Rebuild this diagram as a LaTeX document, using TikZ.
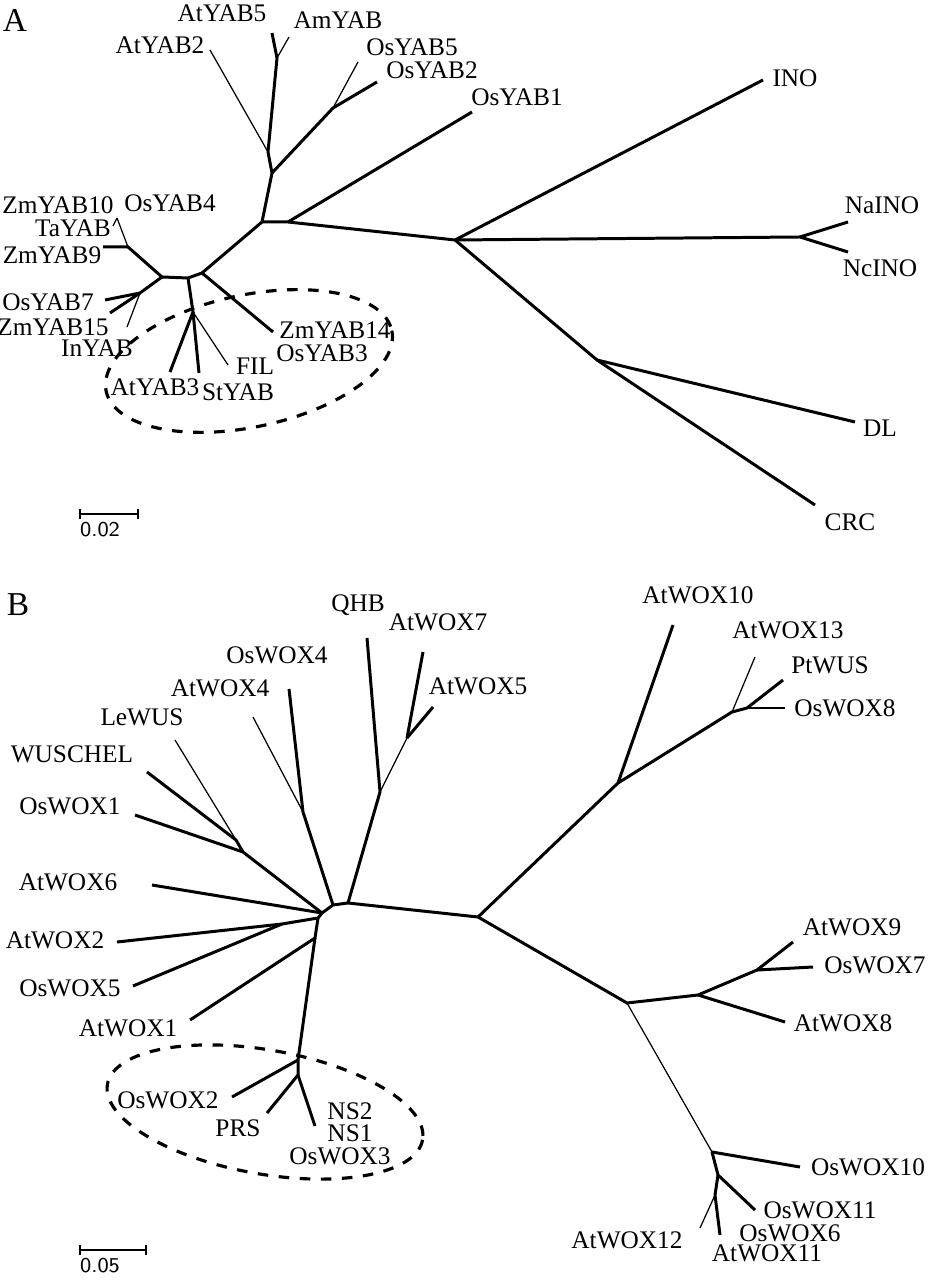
\documentclass[tikz,border=0pt]{standalone}
\usepackage{fontspec}
\setmainfont{Liberation Serif}
\begin{document}
\begin{tikzpicture}[x=0.01cm,y=-0.01cm,
    br/.style={line width=0.85pt},
    tn/.style={line width=0.35pt},
    lb/.style={inner sep=0pt,font=\fontsize{7.2}{8}\selectfont},
    sc/.style={inner sep=0pt,font=\sffamily\fontsize{6}{7}\selectfont},
    pl/.style={inner sep=0pt,font=\fontsize{9.5}{10}\selectfont}]
  \useasboundingbox (0,0) rectangle (934,1280);
  % panel A
  \node[pl] (pA) at (15,20) {A};
  \coordinate (a0) at (262,222);
  \coordinate (a1) at (288,222);
  \coordinate (a2) at (455,240);
  \coordinate (a3) at (800,237);
  \coordinate (a4) at (597,360);
  \coordinate (a5) at (272,173);
  \coordinate (a6) at (268,152);
  \coordinate (a7) at (277,58);
  \coordinate (a8) at (333,108);
  \coordinate (a9) at (202,273);
  \coordinate (a10) at (188,278);
  \coordinate (a11) at (162,277);
  \coordinate (a12) at (193,312);
  \coordinate (a13) at (128,247);
  \coordinate (a14) at (140,293);
  \coordinate (tINO) at (763,80);
  \coordinate (tNaINO) at (848,222);
  \coordinate (tNcINO) at (848,252);
  \coordinate (tDL) at (855,422);
  \coordinate (tCRC) at (815,505);
  \coordinate (tOsYAB1) at (472,112);
  \coordinate (tOsYAB2) at (377,82);
  \coordinate (tOsYAB5) at (358,62);
  \coordinate (tAtYAB2) at (210,50);
  \coordinate (tAtYAB5) at (272,33);
  \coordinate (tAmYAB) at (289,37);
  \coordinate (tZmYAB14) at (273,332);
  \coordinate (tAtYAB3) at (170,372);
  \coordinate (tStYAB) at (199,373);
  \coordinate (tFIL) at (228,365);
  \coordinate (tZmYAB9) at (103,247);
  \coordinate (tZmYAB10) at (117,218);
  \coordinate (tTaYAB) at (113,226);
  \coordinate (tOsYAB7) at (105,300);
  \coordinate (tZmYAB15) at (110,313);
  \coordinate (tInYAB) at (127,327);
  \draw[br] (a0)--(a1)--(a2)--(a3);
  \draw[br] (a2)--(tINO);
  \draw[br] (a3)--(tNaINO);
  \draw[br] (a3)--(tNcINO);
  \draw[br] (a2)--(a4)--(tCRC);
  \draw[br] (a4)--(tDL);
  \draw[br] (a1)--(tOsYAB1);
  \draw[br] (a0)--(a5)--(a6)--(a7)--(tAtYAB5);
  \draw[tn] (a7)--(tAmYAB);
  \draw[tn] (a6)--(tAtYAB2);
  \draw[br] (a5)--(a8)--(tOsYAB2);
  \draw[tn] (a8)--(tOsYAB5);
  \draw[br] (a0)--(a9)--(a10)--(a11);
  \draw[br] (a9)--(tZmYAB14);
  \draw[br] (a10)--(a12)--(tAtYAB3);
  \draw[br] (a12)--(tStYAB);
  \draw[tn] (a12)--(tFIL);
  \draw[br] (a11)--(a13)--(tZmYAB9);
  \draw[tn] (a13)--(tZmYAB10);
  \draw[tn] (tZmYAB10)--(tTaYAB);
  \draw[br] (a11)--(a14)--(tOsYAB7);
  \draw[br] (a14)--(tZmYAB15);
  \draw[tn] (a14)--(tInYAB);
  \node[lb] (lINO) at (795,78) {INO};
  \node[lb] (lNaINO) at (882,205) {NaINO};
  \node[lb] (lNcINO) at (880,268) {NcINO};
  \node[lb] (lDL) at (880,428) {DL};
  \node[lb] (lCRC) at (850,522) {CRC};
  \node[lb] (lOsYAB1) at (517,97) {OsYAB1};
  \node[lb] (lOsYAB5) at (412,47) {OsYAB5};
  \node[lb] (lOsYAB2) at (432,70) {OsYAB2};
  \node[lb] (lAtYAB5) at (222,13) {AtYAB5};
  \node[lb] (lAmYAB) at (338,20) {AmYAB};
  \node[lb] (lAtYAB2) at (160,45) {AtYAB2};
  \node[lb] (lZmYAB10) at (58,205) {ZmYAB10};
  \node[lb] (lOsYAB4) at (170,203) {OsYAB4};
  \node[lb] (lTaYAB) at (73,228) {TaYAB};
  \node[lb] (lZmYAB9) at (52,255) {ZmYAB9};
  \node[lb] (lOsYAB7) at (48,302) {OsYAB7};
  \node[lb] (lZmYAB15) at (53,327) {ZmYAB15};
  \node[lb] (lInYAB) at (97,348) {InYAB};
  \node[lb] (lAtYAB3) at (155,387) {AtYAB3};
  \node[lb] (lStYAB) at (238,392) {StYAB};
  \node[lb] (lFIL) at (255,366) {FIL};
  \node[lb] (lZmYAB14) at (335,330) {ZmYAB14};
  \node[lb] (lOsYAB3) at (322,353) {OsYAB3};
  \draw[dashed,line width=0.9pt,rotate around={12:(249,361)}] (249,361) ellipse (146 and 66);
  \coordinate (sA1) at (80,514);
  \coordinate (sA2) at (138,514);
  \draw[tn] (sA1)++(0,-5)--++(0,10);
  \draw[tn] (sA2)++(0,-5)--++(0,10);
  \draw[tn] (sA1)--(sA2);
  \node[sc] (lsA) at (100,530) {0.02};
  % panel B
  \node[pl] (pB) at (18,605) {B};
  \coordinate (b0) at (322,913);
  \coordinate (b1) at (333,905);
  \coordinate (b2) at (348,903);
  \coordinate (b3) at (478,917);
  \coordinate (b4) at (380,792);
  \coordinate (b5) at (407,738);
  \coordinate (b6) at (303,812);
  \coordinate (b7) at (243,852);
  \coordinate (b8) at (236,840);
  \coordinate (b9) at (318,918);
  \coordinate (b10) at (282,924);
  \coordinate (b11) at (315,938);
  \coordinate (b12) at (298,1060);
  \coordinate (b13) at (298,1075);
  \coordinate (b14) at (618,783);
  \coordinate (b15) at (732,712);
  \coordinate (b16) at (747,708);
  \coordinate (b17) at (627,1003);
  \coordinate (b18) at (698,995);
  \coordinate (b19) at (757,970);
  \coordinate (b20) at (712,1152);
  \coordinate (b21) at (718,1175);
  \coordinate (b22) at (715,1195);
  \coordinate (tQHB) at (367,638);
  \coordinate (tAtWOX7) at (423,652);
  \coordinate (tAtWOX5) at (433,707);
  \coordinate (tOsWOX4) at (289,689);
  \coordinate (tAtWOX4) at (253,717);
  \coordinate (tLeWUS) at (175,740);
  \coordinate (tWUSCHEL) at (147,772);
  \coordinate (tOsWOX1) at (135,815);
  \coordinate (tAtWOX6) at (152,885);
  \coordinate (tAtWOX2) at (117,942);
  \coordinate (tOsWOX5) at (133,986);
  \coordinate (tAtWOX1) at (190,1020);
  \coordinate (tOsWOX2) at (232,1097);
  \coordinate (tPRS) at (267,1113);
  \coordinate (tNS) at (315,1126);
  \coordinate (tAtWOX10) at (673,625);
  \coordinate (tAtWOX13) at (755,657);
  \coordinate (tPtWUS) at (783,680);
  \coordinate (tOsWOX8) at (785,708);
  \coordinate (tAtWOX9) at (793,942);
  \coordinate (tOsWOX7) at (813,967);
  \coordinate (tAtWOX8) at (785,1022);
  \coordinate (tOsWOX10) at (800,1167);
  \coordinate (tOsWOX11) at (755,1210);
  \coordinate (tAtWOX11) at (720,1235);
  \coordinate (tAtWOX12) at (700,1228);
  \draw[br] (b0)--(b1)--(b2)--(b3);
  \draw[br] (b2)--(b4)--(tQHB);
  \draw[tn] (b4)--(b5);
  \draw[br] (b5)--(tAtWOX7);
  \draw[br] (b5)--(tAtWOX5);
  \draw[br] (b1)--(b6)--(tOsWOX4);
  \draw[tn] (b6)--(tAtWOX4);
  \draw[br] (b0)--(b7)--(tOsWOX1);
  \draw[br] (b7)--(b8)--(tWUSCHEL);
  \draw[tn] (b8)--(tLeWUS);
  \draw[br] (b0)--(tAtWOX6);
  \draw[br] (b0)--(b9)--(b10)--(tAtWOX2);
  \draw[br] (b10)--(tOsWOX5);
  \draw[br] (b9)--(b11)--(tAtWOX1);
  \draw[br] (b11)--(b12)--(tOsWOX2);
  \draw[br] (b12)--(b13)--(tPRS);
  \draw[br] (b13)--(tNS);
  \draw[br] (b3)--(b14)--(tAtWOX10);
  \draw[br] (b14)--(b15)--(b16)--(tPtWUS);
  \draw[tn] (b15)--(tAtWOX13);
  \draw[br] (b16)--(tOsWOX8);
  \draw[br] (b3)--(b17)--(b18)--(b19)--(tAtWOX9);
  \draw[br] (b19)--(tOsWOX7);
  \draw[br] (b18)--(tAtWOX8);
  \draw[tn] (b17)--(b20);
  \draw[br] (b20)--(tOsWOX10);
  \draw[br] (b20)--(b21)--(tOsWOX11);
  \draw[br] (b21)--(b22)--(tAtWOX11);
  \draw[tn] (b22)--(tAtWOX12);
  \node[lb] (lQHB) at (358,605) {QHB};
  \node[lb] (lAtWOX7) at (438,622) {AtWOX7};
  \node[lb] (lAtWOX5) at (478,686) {AtWOX5};
  \node[lb] (lOsWOX4) at (277,655) {OsWOX4};
  \node[lb] (lAtWOX4) at (220,688) {AtWOX4};
  \node[lb] (lLeWUS) at (142,717) {LeWUS};
  \node[lb] (lWUSCHEL) at (72,754) {WUSCHEL};
  \node[lb] (lOsWOX1) at (70,806) {OsWOX1};
  \node[lb] (lAtWOX6) at (68,882) {AtWOX6};
  \node[lb] (lAtWOX2) at (55,940) {AtWOX2};
  \node[lb] (lOsWOX5) at (70,988) {OsWOX5};
  \node[lb] (lAtWOX1) at (128,1028) {AtWOX1};
  \node[lb] (lOsWOX2) at (168,1100) {OsWOX2};
  \node[lb] (lPRS) at (238,1128) {PRS};
  \node[lb] (lNS2) at (350,1111) {NS2};
  \node[lb] (lNS1) at (350,1133) {NS1};
  \node[lb] (lOsWOX3) at (340,1156) {OsWOX3};
  \node[lb] (lAtWOX10) at (698,595) {AtWOX10};
  \node[lb] (lAtWOX13) at (788,630) {AtWOX13};
  \node[lb] (lPtWUS) at (830,665) {PtWUS};
  \node[lb] (lOsWOX8) at (845,708) {OsWOX8};
  \node[lb] (lAtWOX9) at (852,927) {AtWOX9};
  \node[lb] (lOsWOX7) at (875,965) {OsWOX7};
  \node[lb] (lAtWOX8) at (843,1023) {AtWOX8};
  \node[lb] (lOsWOX10) at (868,1167) {OsWOX10};
  \node[lb] (lOsWOX11) at (820,1210) {OsWOX11};
  \node[lb] (lOsWOX6) at (790,1233) {OsWOX6};
  \node[lb] (lAtWOX11) at (767,1253) {AtWOX11};
  \node[lb] (lAtWOX12) at (627,1240) {AtWOX12};
  \draw[dashed,line width=0.9pt,rotate around={-10:(265,1112)}] (265,1112) ellipse (160 and 62);
  \coordinate (sB1) at (80,1250);
  \coordinate (sB2) at (146,1250);
  \draw[tn] (sB1)++(0,-5)--++(0,10);
  \draw[tn] (sB2)++(0,-5)--++(0,10);
  \draw[tn] (sB1)--(sB2);
  \node[sc] (lsB) at (100,1266) {0.05};
\end{tikzpicture}
\end{document}
